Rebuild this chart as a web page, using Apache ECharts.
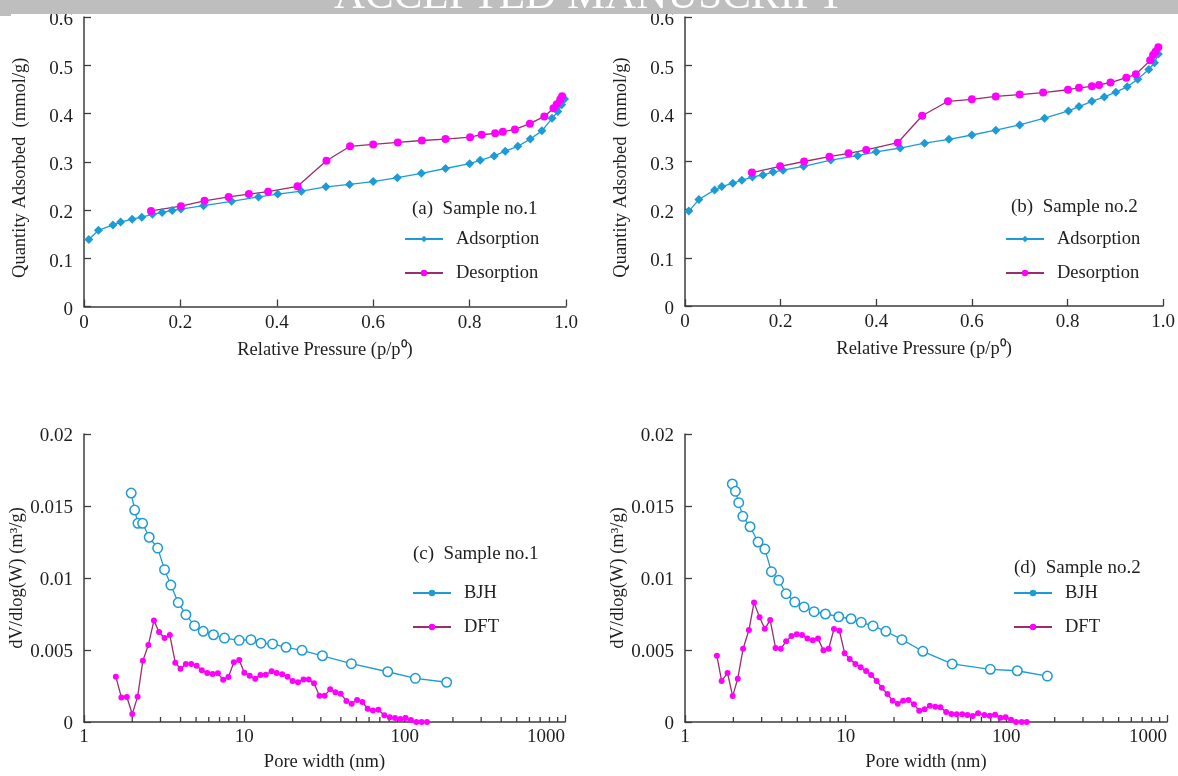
<!DOCTYPE html>
<html>
<head>
<meta charset="utf-8">
<script src="https://cdn.jsdelivr.net/npm/echarts@6/dist/echarts.min.js"></script>
<style>
  html, body { margin: 0; padding: 0; background: #fff; }
  #main { width: 1178px; height: 776px; }
</style>
</head>
<body>
<div id="main"></div>
<script>
// (a) Sample no.1 isotherm
const adsA_x = [0.01, 0.03, 0.06, 0.076, 0.1, 0.12, 0.142, 0.162, 0.183, 0.201, 0.248, 0.306, 0.362, 0.402, 0.451, 0.502, 0.551, 0.6, 0.65, 0.7, 0.75, 0.8, 0.822, 0.851, 0.874, 0.9, 0.926, 0.95, 0.971, 0.983, 0.991, 0.997];
const adsA_y = [0.139, 0.158, 0.169, 0.175, 0.181, 0.185, 0.191, 0.195, 0.199, 0.202, 0.209, 0.218, 0.227, 0.233, 0.239, 0.248, 0.253, 0.259, 0.267, 0.276, 0.286, 0.296, 0.303, 0.312, 0.322, 0.332, 0.347, 0.364, 0.39, 0.404, 0.418, 0.43];
const desA_x = [0.139, 0.201, 0.25, 0.3, 0.342, 0.382, 0.443, 0.503, 0.552, 0.6, 0.651, 0.701, 0.75, 0.801, 0.825, 0.853, 0.869, 0.894, 0.925, 0.955, 0.974, 0.981, 0.988, 0.992];
const desA_y = [0.198, 0.208, 0.219, 0.227, 0.233, 0.238, 0.249, 0.302, 0.332, 0.336, 0.340, 0.344, 0.347, 0.351, 0.356, 0.359, 0.362, 0.367, 0.379, 0.394, 0.411, 0.419, 0.429, 0.436];

// (b) Sample no.2 isotherm
const adsB_x = [0.008, 0.029, 0.062, 0.077, 0.1, 0.119, 0.141, 0.163, 0.184, 0.205, 0.248, 0.305, 0.361, 0.4, 0.45, 0.501, 0.552, 0.6, 0.65, 0.7, 0.752, 0.802, 0.824, 0.851, 0.877, 0.901, 0.925, 0.947, 0.97, 0.982, 0.99];
const adsB_y = [0.197, 0.221, 0.241, 0.248, 0.255, 0.261, 0.268, 0.272, 0.278, 0.282, 0.29, 0.303, 0.312, 0.32, 0.328, 0.338, 0.346, 0.355, 0.365, 0.376, 0.39, 0.405, 0.414, 0.425, 0.434, 0.444, 0.455, 0.471, 0.491, 0.505, 0.523];
const desB_x = [0.14, 0.199, 0.249, 0.302, 0.342, 0.379, 0.445, 0.496, 0.55, 0.6, 0.65, 0.7, 0.749, 0.801, 0.824, 0.851, 0.866, 0.89, 0.923, 0.943, 0.973, 0.979, 0.984, 0.99];
const desB_y = [0.277, 0.29, 0.3, 0.31, 0.317, 0.324, 0.339, 0.395, 0.425, 0.429, 0.435, 0.439, 0.443, 0.449, 0.453, 0.456, 0.459, 0.464, 0.474, 0.481, 0.51, 0.521, 0.528, 0.537];

// (c) Sample no.1 pore size distribution
const bjhC_x = [1.97, 2.07, 2.17, 2.32, 2.55, 2.88, 3.18, 3.48, 3.87, 4.32, 4.89, 5.54, 6.42, 7.52, 9.29, 11.0, 12.7, 15.0, 18.2, 22.9, 30.7, 46.5, 78.4, 116.6, 182.8];
const bjhC_y = [0.0159, 0.01472, 0.0138, 0.0138, 0.01283, 0.01208, 0.01058, 0.00951, 0.00829, 0.00745, 0.00669, 0.0063, 0.00606, 0.00583, 0.00567, 0.00572, 0.00547, 0.00542, 0.00519, 0.00498, 0.0046, 0.00405, 0.00349, 0.00303, 0.00276];
const dftC_x = [1.58, 1.71, 1.85, 2.0, 2.16, 2.33, 2.52, 2.73, 2.94, 3.18, 3.43, 3.71, 4.0, 4.32, 4.66, 5.04, 5.43, 5.87, 6.34, 6.84, 7.38, 7.96, 8.6, 9.29, 10.0, 10.8, 11.7, 12.6, 13.6, 14.8, 15.9, 17.2, 18.6, 20.0, 21.6, 23.4, 25.2, 27.2, 29.4, 31.7, 34.3, 37.0, 39.9, 43.3, 46.7, 50.5, 54.5, 58.8, 63.4, 68.6, 74.7, 80.7, 87.0, 94.0, 101.4, 109.4, 118.3, 127.6, 137.8];
const dftC_y = [0.00315, 0.00171, 0.00174, 0.00056, 0.00176, 0.00426, 0.00535, 0.00704, 0.00625, 0.00583, 0.00604, 0.00412, 0.0037, 0.00403, 0.00403, 0.00391, 0.00359, 0.0034, 0.00333, 0.00338, 0.00294, 0.00313, 0.00415, 0.0043, 0.00342, 0.00322, 0.00301, 0.00326, 0.00328, 0.00352, 0.0034, 0.00331, 0.00315, 0.00285, 0.00276, 0.00296, 0.00296, 0.00269, 0.00183, 0.00183, 0.00227, 0.00206, 0.00197, 0.00146, 0.00127, 0.00153, 0.00139, 0.00092, 0.0008, 0.00085, 0.00047, 0.00033, 0.00028, 0.00021, 0.00028, 0.00014, 0.0, 0.0, 0.0];

// (d) Sample no.2 pore size distribution
const bjhD_x = [1.97, 2.06, 2.16, 2.29, 2.54, 2.85, 3.14, 3.45, 3.83, 4.26, 4.82, 5.51, 6.36, 7.48, 9.05, 10.8, 12.5, 14.8, 17.8, 22.4, 30.2, 46.0, 79.5, 117, 180];
const bjhD_y = [0.01653, 0.01602, 0.01523, 0.01428, 0.01356, 0.0125, 0.01201, 0.01044, 0.00984, 0.00891, 0.00833, 0.00799, 0.00766, 0.0075, 0.00731, 0.00717, 0.00692, 0.00667, 0.0063, 0.00572, 0.00491, 0.00403, 0.00366, 0.00356, 0.00319];
const dftD_x = [1.58, 1.69, 1.84, 1.98, 2.13, 2.3, 2.5, 2.69, 2.91, 3.14, 3.39, 3.66, 3.95, 4.26, 4.6, 4.96, 5.35, 5.78, 6.24, 6.73, 7.27, 7.84, 8.46, 9.14, 9.86, 10.6, 11.5, 12.4, 13.4, 14.4, 15.6, 16.8, 18.2, 19.6, 21.1, 22.8, 24.6, 26.6, 28.7, 31.0, 33.4, 36.1, 38.9, 42.2, 45.5, 49.1, 53.1, 57.3, 61.8, 66.7, 73.0, 78.8, 85.1, 91.8, 99.0, 107, 115, 124.5, 134];
const dftD_y = [0.0046, 0.00285, 0.0034, 0.0018, 0.00301, 0.00509, 0.00639, 0.00829, 0.00727, 0.00648, 0.00708, 0.00514, 0.00509, 0.0056, 0.00597, 0.00609, 0.00604, 0.00579, 0.00567, 0.00579, 0.00498, 0.00509, 0.00646, 0.00634, 0.00477, 0.00438, 0.00403, 0.0038, 0.00354, 0.00326, 0.00285, 0.00238, 0.00194, 0.00148, 0.00127, 0.00148, 0.00153, 0.00123, 0.00078, 0.00088, 0.00113, 0.00106, 0.00102, 0.00069, 0.00056, 0.00053, 0.00053, 0.00049, 0.00042, 0.0006, 0.00049, 0.00044, 0.00051, 0.0003, 0.00033, 0.00016, 0.0, 0.0, 0.0];

// tick labels
const pressureTicks = ['0', '0.2', '0.4', '0.6', '0.8', '1.0'];
const quantityTicks = ['0', '0.1', '0.2', '0.3', '0.4', '0.5', '0.6'];
const poreTicks = ['1', '10', '100', '1000'];
const dvTicks = ['0', '0.005', '0.01', '0.015', '0.02'];
const minorLogTicks = [2, 3, 4, 5, 6, 7, 8, 9, 20, 30, 40, 50, 60, 70, 80, 90, 200, 300, 400, 500, 600, 700, 800, 900];

const FONT = '"Liberation Serif", "Times New Roman", serif';
const AXIS = '#3c3c3c';
const TXT = '#1e1e1e';
const BLUE = '#1c9bd6';
const MAG = '#ff00ff';
const PURPLE = '#9a2c70';

const zip = (xs, ys) => xs.map((x, i) => [x, ys[i]]);

const myChart = echarts.init(document.getElementById('main'));

const grids = [
  { left: 84, top: 17, width: 482, height: 289.5 },
  { left: 685, top: 17, width: 482, height: 289 },
  { left: 84, top: 434, width: 481, height: 288 },
  { left: 685, top: 434, width: 482, height: 288 },
];

function baseAxis(gridIndex) {
  return {
    gridIndex: gridIndex,
    axisLine: { show: true, onZero: false, lineStyle: { color: AXIS, width: 1.5 } },
    axisTick: { show: true, inside: true, length: 7, lineStyle: { color: AXIS, width: 1.3 } },
    splitLine: { show: false },
    axisLabel: { color: TXT, fontSize: 19, fontFamily: FONT },
    nameTextStyle: { color: TXT, fontSize: 18.5, fontFamily: FONT },
    nameLocation: 'middle',
  };
}

const xAxes = [];
const yAxes = [];
[0, 1].forEach(function (g) {
  xAxes.push(Object.assign(baseAxis(g), {
    type: 'value', min: 0, max: 1, interval: 0.2,
    name: 'Relative Pressure (p/p\u2070)', nameGap: 34,
    axisLabel: Object.assign(baseAxis(g).axisLabel, {
      margin: 7,
      formatter: function (v) { return pressureTicks[Math.round(v * 5)]; },
    }),
  }));
  yAxes.push(Object.assign(baseAxis(g), {
    type: 'value', min: 0, max: 0.6, interval: 0.1,
    name: 'Quantity Adsorbed  (mmol/g)', nameGap: 54,
    nameTextStyle: Object.assign(baseAxis(g).nameTextStyle, { padding: [0, 12, 0, 0] }),
    axisLabel: Object.assign(baseAxis(g).axisLabel, {
      margin: 11, verticalAlign: 'top', lineHeight: 7,
      formatter: function (v) { return quantityTicks[Math.round(v * 10)]; },
    }),
  }));
});
[2, 3].forEach(function (g) {
  xAxes.push(Object.assign(baseAxis(g), {
    type: 'log', logBase: 10, min: 1, max: 1000,
    name: 'Pore width (nm)', nameGap: 31,
    axisLabel: Object.assign(baseAxis(g).axisLabel, {
      margin: 6, alignMaxLabel: 'right',
      formatter: function (v) { return poreTicks[Math.round(Math.log10(v))]; },
    }),
  }));
  yAxes.push(Object.assign(baseAxis(g), {
    type: 'value', min: 0, max: 0.02, interval: 0.005,
    name: 'dV/dlog(W) (m\u00b3/g)', nameGap: 54,
    axisLabel: Object.assign(baseAxis(g).axisLabel, {
      margin: 11, verticalAlign: 'top', lineHeight: 4,
      formatter: function (v) { return dvTicks[Math.round(v / 0.005)]; },
    }),
  }));
});

function lineSeries(name, idx, data, symbol, size, lineColor, fill, hollow) {
  return {
    name: name, type: 'line', xAxisIndex: idx, yAxisIndex: idx,
    data: data, symbol: symbol, symbolSize: size, showAllSymbol: true,
    lineStyle: { color: lineColor, width: 1.3 },
    itemStyle: hollow
      ? { color: '#ffffff', borderColor: fill, borderWidth: 1.5 }
      : { color: fill, borderWidth: 0 },
    emphasis: { disabled: true },
    animation: false,
  };
}

// minor ticks of the log axes, placed through the axis scale
function minorTickSeries(idx) {
  return {
    type: 'custom', xAxisIndex: idx, yAxisIndex: idx, silent: true, clip: false,
    data: minorLogTicks.map(function (v) { return [v, 0]; }),
    renderItem: function (params, api) {
      const p = api.coord([api.value(0), 0]);
      return {
        type: 'line',
        shape: { x1: p[0], y1: p[1], x2: p[0], y2: p[1] - 5 },
        style: { stroke: AXIS, lineWidth: 1.3 },
      };
    },
    animation: false,
  };
}

const series = [
  lineSeries('Adsorption', 0, zip(adsA_x, adsA_y), 'diamond', 9, BLUE, BLUE, false),
  lineSeries('Desorption', 0, zip(desA_x, desA_y), 'circle', 8, PURPLE, MAG, false),
  lineSeries('Adsorption', 1, zip(adsB_x, adsB_y), 'diamond', 9, BLUE, BLUE, false),
  lineSeries('Desorption', 1, zip(desB_x, desB_y), 'circle', 8, PURPLE, MAG, false),
  lineSeries('BJH', 2, zip(bjhC_x, bjhC_y), 'circle', 9.5, BLUE, BLUE, true),
  lineSeries('DFT', 2, zip(dftC_x, dftC_y), 'circle', 6, PURPLE, MAG, false),
  lineSeries('BJH', 3, zip(bjhD_x, bjhD_y), 'circle', 9.5, BLUE, BLUE, true),
  lineSeries('DFT', 3, zip(dftD_x, dftD_y), 'circle', 6, PURPLE, MAG, false),
  minorTickSeries(2),
  minorTickSeries(3),
];

function panelTitle(text, left, top) {
  return {
    text: text, left: left, top: top, padding: 0,
    textStyle: { color: TXT, fontSize: 19, fontWeight: 'normal', fontFamily: FONT },
  };
}

function panelLegend(names, left, top) {
  return {
    orient: 'vertical', left: left, top: top, padding: 0,
    itemWidth: 38, itemHeight: 8, itemGap: 14, selectedMode: false,
    data: names.map(function (n) {
      return { name: n, itemStyle: { color: n === 'BJH' ? BLUE : undefined, borderWidth: 0 } };
    }),
    textStyle: { color: TXT, fontSize: 18.5, fontFamily: FONT, lineHeight: 20, padding: [0, 0, 0, 8] },
  };
}

const option = {
  backgroundColor: '#ffffff',
  animation: false,
  grid: grids,
  xAxis: xAxes,
  yAxis: yAxes,
  series: series,
  title: [
    panelTitle('(a)  Sample no.1', 412, 200),
    panelTitle('(b)  Sample no.2', 1011, 198),
    panelTitle('(c)  Sample no.1', 413, 545),
    panelTitle('(d)  Sample no.2', 1014, 559),
  ],
  legend: [
    panelLegend(['Adsorption', 'Desorption'], 404, 229),
    panelLegend(['Adsorption', 'Desorption'], 1005, 229),
    panelLegend(['BJH', 'DFT'], 412, 583),
    panelLegend(['BJH', 'DFT'], 1013, 583),
  ],
  graphic: [
    { type: 'rect', z: 100, shape: { x: 0, y: 0, width: 1178, height: 14 }, style: { fill: '#bebebe' } },
    { type: 'rect', z: 100, shape: { x: 0, y: 14, width: 11, height: 2 }, style: { fill: '#bebebe' } },
    {
      type: 'text', z: 101, left: 'center', top: -25,
      style: { text: 'ACCEPTED MANUSCRIPT', fill: '#ffffff', fontSize: 43, fontFamily: FONT },
    },
  ],
};

myChart.setOption(option);
</script>
</body>
</html>
